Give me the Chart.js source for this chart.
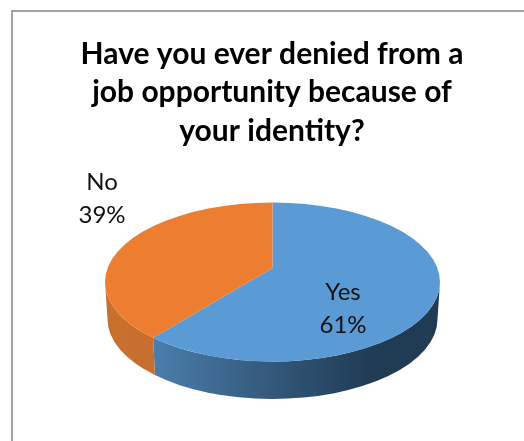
<!DOCTYPE html>
<html>
<head>
<meta charset="utf-8">
<style>
html, body { margin: 0; padding: 0; background: #fff; overflow: hidden; width: 524px; height: 441px; }
#frame { position: absolute; left: 11px; top: 10px; width: 600px; height: 600px; border: 2px solid #a3a3a3; }
#chart { position: absolute; left: 0; top: 0; }
</style>
</head>
<body>
<div id="frame"></div>
<canvas id="chart" width="544" height="441"></canvas>
<script src="https://cdn.jsdelivr.net/npm/chart.js@4"></script>
<script>
var categories = ["Yes", "No"];
var percentValues = [61, 39];
var titleLines = [
    "Have you ever denied from a",
    "job opportunity because of",
    "your identity?"
];
var sliceColors = ["#5b9bd5", "#ed7d31"];
var sideStops = [
    [[0, "#5c8fc0"], [0.15, "#4a7dab"], [0.5, "#33587a"], [0.8, "#203b54"], [1, "#203b54"]],
    [[0, "#c9702f"], [1, "#bf6527"]]
];
var labelSpots = [
    { x: 343, y: 300, color: "#111" },
    { x: 102, y: 190, color: "#111" }
];

// tilt of the pie: the circle is squashed, and seen from in front of it the
// centre sits above the middle of the top ellipse
var tilt = { apexX: 272.5, apexY: 268, squash: 0.4835 };
var topFace = { x: 272.5, y: 282, rx: 167.5, ry: 79.5 };
var bottomFace = { x: 272.5, y: 319, rx: 165, ry: 80 };

// where a slice edge at this angle hits the top ellipse, as ellipse parameter
function rimParam(angle) {
    var dx = Math.cos(angle) / topFace.rx;
    var dy = (tilt.squash * Math.sin(angle)) / topFace.ry;
    var ox = (tilt.apexX - topFace.x) / topFace.rx;
    var oy = (tilt.apexY - topFace.y) / topFace.ry;
    var a = dx * dx + dy * dy;
    var b = 2 * (ox * dx + oy * dy);
    var c = ox * ox + oy * oy - 1;
    var s = (-b + Math.sqrt(b * b - 4 * a * c)) / (2 * a);
    var t = Math.atan2(oy + s * dy, ox + s * dx);
    return t < 0 ? t + Math.PI * 2 : t;
}

var pie3d = {
    id: "pie3d",
    beforeDatasetsDraw: function (chart) {
        var ctx = chart.ctx;
        var arcs = chart.getDatasetMeta(0).data;

        // side wall, only the part of each slice facing the viewer
        arcs.forEach(function (arc, i) {
            var from = rimParam(arc.startAngle);
            var to = rimParam(arc.endAngle);
            if (to < from) {
                to += Math.PI * 2;
            }
            var lo = from;
            var hi = to;
            if (to > Math.PI * 2) {
                lo = Math.max(from, Math.PI * 2);
                hi = Math.min(to, Math.PI * 3);
            } else {
                hi = Math.min(to, Math.PI);
            }
            if (hi <= lo) {
                return;
            }
            var x0 = topFace.x - topFace.rx;
            var x1 = topFace.x + topFace.rx;
            var fill = ctx.createLinearGradient(x0, 0, x1, 0);
            sideStops[i].forEach(function (stop) {
                fill.addColorStop(stop[0], stop[1]);
            });
            ctx.beginPath();
            ctx.ellipse(topFace.x, topFace.y, topFace.rx, topFace.ry, 0, lo, hi);
            ctx.ellipse(bottomFace.x, bottomFace.y, bottomFace.rx, bottomFace.ry, 0, hi, lo, true);
            ctx.closePath();
            ctx.fillStyle = fill;
            ctx.fill();
        });

        // top face: the library's own arcs, tilted and cut to the rim
        var c = arcs[0];
        ctx.save();
        ctx.beginPath();
        ctx.ellipse(topFace.x, topFace.y, topFace.rx, topFace.ry, 0, 0, Math.PI * 2);
        ctx.clip();
        ctx.translate(tilt.apexX, tilt.apexY);
        ctx.scale(1, tilt.squash);
        ctx.translate(-c.x, -c.y);
    },
    afterDatasetsDraw: function (chart) {
        var ctx = chart.ctx;
        ctx.restore();

        ctx.font = "24px Lato";
        ctx.textAlign = "center";
        ctx.textBaseline = "alphabetic";
        categories.forEach(function (name, i) {
            var spot = labelSpots[i];
            ctx.fillStyle = spot.color;
            ctx.fillText(name, spot.x, spot.y);
            ctx.fillText(percentValues[i] + "%", spot.x, spot.y + 33);
        });
    }
};

new Chart(document.getElementById("chart"), {
    type: "pie",
    data: {
        labels: categories,
        datasets: [
            {
                data: percentValues,
                backgroundColor: sliceColors,
                borderWidth: 0,
                clip: false
            }
        ]
    },
    options: {
        responsive: false,
        animation: false,
        radius: 220,
        plugins: {
            legend: { display: false },
            tooltip: { enabled: false },
            title: {
                display: true,
                text: titleLines,
                color: "#000",
                font: { family: "Lato", size: 30, weight: "bold", lineHeight: 1.28 },
                padding: { top: 35, bottom: 10 }
            }
        }
    },
    plugins: [pie3d]
});
</script>
</body>
</html>
